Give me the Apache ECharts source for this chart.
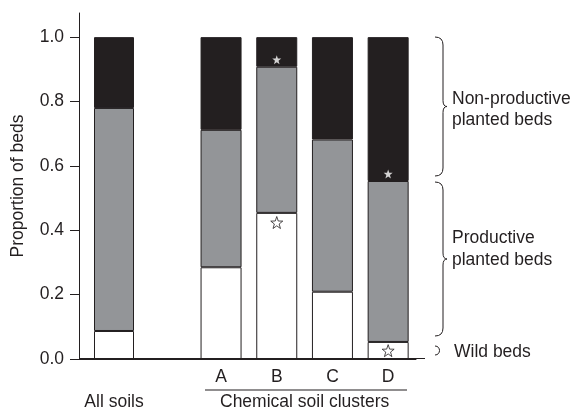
<!DOCTYPE html>
<html>
<head>
<meta charset="utf-8">
<script src="https://cdn.jsdelivr.net/npm/echarts@6/dist/echarts.min.js"></script>
<style>
  html, body { margin: 0; padding: 0; background: #fff; }
  #chart { width: 576px; height: 411px; }
</style>
</head>
<body>
<div id="chart"></div>
<script>
// proportions of beds
const allSoilsCats = ["All soils", ""];
const allSoilsWild = [0.087, "-"];
const allSoilsProductive = [0.693, "-"];
const allSoilsNonProductive = [0.22, "-"];

const clusters = ["A", "B", "C", "D"];
const clusterWild = [0.285, 0.454, 0.209, 0.053];
const clusterProductive = [0.427, 0.454, 0.473, 0.5];
const clusterNonProductive = [0.288, 0.092, 0.318, 0.447];

// significance stars
const filledStars = [["B", 0.93], ["D", 0.575]];
const openStars = [["B", 0.424], ["D", 0.026]];

const yTicks = [0, 0.2, 0.4, 0.6, 0.8, 1.0];

const ink = "#231f20";
const grey = "#939598";
const font = "Liberation Sans, Arial, sans-serif";
const star = "path://M0,-10 L2.35,-3.24 9.51,-3.09 3.8,1.24 5.88,8.09 0,4 -5.88,8.09 -3.8,1.24 -9.51,-3.09 -2.35,-3.24 Z";

const chart = echarts.init(document.getElementById("chart"));

function stackSeries(name, data, color, xi, width) {
  return {
    name,
    type: "bar",
    stack: "beds" + xi,
    xAxisIndex: xi,
    yAxisIndex: xi,
    data,
    barWidth: width,
    itemStyle: { color, borderColor: ink, borderWidth: 1 },
  };
}

// curly brace "}" from top to bottom at x
function brace(x, top, bottom, w) {
  const mid = (top + bottom) / 2;
  const st = { stroke: ink, fill: null, lineWidth: 1 };
  return [
    { type: "bezierCurve", shape: { x1: x, y1: top, cpx1: x + w, cpy1: top, x2: x + w, y2: top + 8 }, style: st },
    { type: "line", shape: { x1: x + w, y1: top + 8, x2: x + w, y2: mid - 6 }, style: st },
    { type: "bezierCurve", shape: { x1: x + w, y1: mid - 6, cpx1: x + w, cpy1: mid, x2: x + w + 4, y2: mid }, style: st },
    { type: "bezierCurve", shape: { x1: x + w + 4, y1: mid, cpx1: x + w, cpy1: mid, x2: x + w, y2: mid + 6 }, style: st },
    { type: "line", shape: { x1: x + w, y1: mid + 6, x2: x + w, y2: bottom - 8 }, style: st },
    { type: "bezierCurve", shape: { x1: x + w, y1: bottom - 8, cpx1: x + w, cpy1: bottom, x2: x, y2: bottom }, style: st },
  ];
}

const yBase = {
  type: "value",
  min: 0,
  max: 1.075,
  splitLine: { show: false },
};

const xLine = { show: true, onZero: false, lineStyle: { color: ink, width: 1 } };

const option = {
  animation: false,
  textStyle: { fontFamily: font, color: ink },
  grid: [
    { left: 79, top: 13, width: 140, bottom: 52, containLabel: false, outerBoundsMode: "none" },
    { left: 193.2, top: 13, width: 222.8, bottom: 52, containLabel: false, outerBoundsMode: "none" },
  ],
  xAxis: [
    {
      type: "category",
      gridIndex: 0,
      data: allSoilsCats,
      axisLine: xLine,
      axisTick: { show: false },
      axisLabel: { color: ink, fontSize: 17.5, margin: 34, fontFamily: font },
    },
    {
      type: "category",
      gridIndex: 1,
      data: clusters,
      axisLine: xLine,
      axisTick: { show: false },
      axisLabel: { color: ink, fontSize: 17.5, margin: 9, fontFamily: font },
      name: "Chemical soil clusters",
      nameLocation: "middle",
      nameGap: 34,
      nameTextStyle: { color: ink, fontSize: 17.5, fontFamily: font },
    },
  ],
  yAxis: [
    {
      ...yBase,
      gridIndex: 0,
      name: "Proportion of beds",
      nameLocation: "middle",
      nameGap: 52,
      nameTextStyle: { color: ink, fontSize: 17.5, fontFamily: font },
      axisLine: { show: true, lineStyle: { color: ink, width: 1 } },
      axisTick: { show: true, length: 9, lineStyle: { color: ink }, customValues: yTicks },
      axisLabel: {
        color: ink,
        fontSize: 17.5,
        margin: 15,
        fontFamily: font,
        customValues: yTicks,
        formatter: (v) => v.toFixed(1),
      },
    },
    {
      ...yBase,
      gridIndex: 1,
      axisLine: { show: false },
      axisTick: { show: false },
      axisLabel: { show: false },
    },
  ],
  series: [
    stackSeries("Wild beds", allSoilsWild, "#ffffff", 0, 40),
    stackSeries("Productive planted beds", allSoilsProductive, grey, 0, 40),
    stackSeries("Non-productive planted beds", allSoilsNonProductive, ink, 0, 40),
    stackSeries("Wild beds", clusterWild, "#ffffff", 1, 41),
    stackSeries("Productive planted beds", clusterProductive, grey, 1, 41),
    stackSeries("Non-productive planted beds", clusterNonProductive, ink, 1, 41),
    {
      type: "scatter",
      xAxisIndex: 1,
      yAxisIndex: 1,
      z: 5,
      data: filledStars,
      symbol: star,
      symbolSize: 9,
      itemStyle: { color: "#ffffff" },
    },
    {
      type: "scatter",
      xAxisIndex: 1,
      yAxisIndex: 1,
      z: 5,
      data: openStars,
      symbol: star,
      symbolSize: 12,
      itemStyle: { color: "#ffffff", borderColor: ink, borderWidth: 1 },
    },
  ],
  graphic: [
    // continuous baseline under both groups
    { type: "line", z: 10, shape: { x1: 79, y1: 358.5, x2: 425, y2: 358.5 }, style: { stroke: ink, lineWidth: 1 } },
    // rule above the cluster label
    { type: "line", shape: { x1: 205, y1: 390, x2: 407, y2: 390 }, style: { stroke: ink, lineWidth: 1.2 } },
    ...brace(435, 37, 176, 8),
    ...brace(435, 182, 336, 8),
    {
      type: "bezierCurve",
      shape: { x1: 435, y1: 346, cpx1: 441, cpy1: 346, cpx2: 441, cpy2: 355, x2: 435, y2: 355 },
      style: { stroke: ink, fill: null, lineWidth: 1 },
    },
    {
      type: "text",
      x: 452,
      y: 109.5,
      style: { text: "Non-productive\nplanted beds", font: "17.5px " + font, fill: ink, lineHeight: 21, verticalAlign: "middle" },
    },
    {
      type: "text",
      x: 452,
      y: 249,
      style: { text: "Productive\nplanted beds", font: "17.5px " + font, fill: ink, lineHeight: 22, verticalAlign: "middle" },
    },
    {
      type: "text",
      x: 454,
      y: 352,
      style: { text: "Wild beds", font: "17.5px " + font, fill: ink, verticalAlign: "middle" },
    },
  ],
};

chart.setOption(option);
</script>
</body>
</html>
